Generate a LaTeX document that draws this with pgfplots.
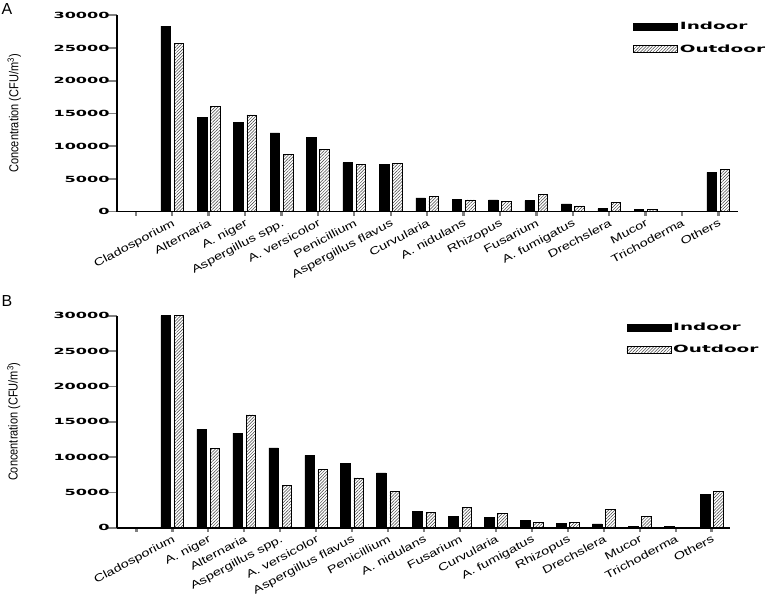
\documentclass[border=0pt]{standalone}
\usepackage{fontspec}
\setmainfont{Liberation Sans}
\newfontfamily\dv{DejaVu Sans}
\usepackage{graphicx}
\usepackage{pgfplots}
\usepackage{pgfplotstable}
\pgfplotsset{compat=1.18}
\usetikzlibrary{patterns.meta}

\newcommand\tl[1]{\scalebox{1.9}[1]{\dv\bfseries\fontsize{8.5}{9}\selectfont #1}}
\newcommand\lt[1]{\scalebox{1.85}[1]{\dv\bfseries\fontsize{10}{11}\selectfont #1}}
\newcommand\cat[1]{\scalebox{1.35}[1]{#1}}

\pgfplotstableread{
x in out
1 28350 25700
2 14400 16100
3 13600 14800
4 12050 8700
5 11300 9500
6 7500 7200
7 7200 7400
8 2100 2300
9 1900 1800
10 1800 1600
11 1700 2700
12 1200 900
13 450 1450
14 350 350
15 0 0
16 6000 6400
}\dataA

\pgfplotstableread{
x in out
1 30000 30000
2 13900 11200
3 13400 15950
4 11300 5950
5 10250 8250
6 9050 7050
7 7750 5150
8 2350 2150
9 1550 2850
10 1450 2050
11 1000 750
12 650 750
13 550 2550
14 200 1650
15 150 0
16 4750 5150
}\dataB

\pgfplotsset{
  panel/.style={
    scale only axis,
    axis x line=bottom, axis y line=left,
    axis line style={-, line width=1.6bp},
    ymin=0, ymax=30000,
    scaled y ticks=false,
    ytick={0,5000,...,30000},
    yticklabels={\tl{0},\tl{5000},\tl{10000},\tl{15000},\tl{20000},\tl{25000},\tl{30000}},
    xtick={0,...,16},
    tick align=outside,
    x tick style={line width=2.4bp, /pgfplots/major tick length=4bp},
    y tick style={line width=1.6bp, /pgfplots/major tick length=9bp},
    xticklabel style={font=\fontsize{10.8}{12}\selectfont, anchor=north east, inner sep=1bp, yshift=-1bp, rotate=28},
    ylabel={\scalebox{0.85}[1]{Concentration (CFU/m\textsuperscript{3})}},
    ylabel style={font=\fontsize{13}{14}\selectfont, anchor=center},
    legend image code/.code={\draw[##1] (0bp,-3.5bp) rectangle (44bp,3.5bp);},
    legend style={draw=none, fill=none, legend cell align=left, row sep=9bp, inner sep=0pt},
  },
  inb/.style={ybar, bar width=9.5bp, bar shift=-6.6bp, fill=black, draw=black, line width=0.5bp},
  outb/.style={ybar, bar width=9.5bp, bar shift=6.6bp, draw=black, line width=0.6bp,
    pattern={Lines[angle=45,distance=2.2bp,line width=0.5bp]}, pattern color=black!75},
}

\begin{document}
\begin{tikzpicture}
\path[use as bounding box] (0,0) rectangle (769bp,596bp);

\begin{axis}[panel,
  at={(117.3bp,384.3bp)}, anchor=south west,
  width=620.7bp, height=196.4bp,
  xmin=-0.51, xmax=16.54,
  xticklabels={,\cat{Cladosporium},\cat{Alternaria},\cat{A. niger},\cat{Aspergillus spp.},\cat{A. versicolor},\cat{Penicillium},\cat{Aspergillus flavus},\cat{Curvularia},\cat{A. nidulans},\cat{Rhizopus},\cat{Fusarium},\cat{A. fumigatus},\cat{Drechslera},\cat{Mucor},\cat{Trichoderma},\cat{Others}},
  ylabel style={at={(axis description cs:-0.166,0.5)}},
  legend style={at={(axis description cs:0.831,0.975)}, anchor=north west},
]
\addplot[inb] table[x=x,y=in] {\dataA};
\addplot[outb] table[x=x,y=out] {\dataA};
\legend{\lt{Indoor},\lt{Outdoor}}
\end{axis}

\begin{axis}[panel,
  at={(117.3bp,68.3bp)}, anchor=south west,
  width=612.7bp, height=212bp,
  xmin=-0.53, xmax=16.51,
  xticklabels={,\cat{Cladosporium},\cat{A. niger},\cat{Alternaria},\cat{Aspergillus spp.},\cat{A. versicolor},\cat{Aspergillus flavus},\cat{Penicillium},\cat{A. nidulans},\cat{Fusarium},\cat{Curvularia},\cat{A. fumigatus},\cat{Rhizopus},\cat{Drechslera},\cat{Mucor},\cat{Trichoderma},\cat{Others}},
  ylabel style={at={(axis description cs:-0.169,0.5)}},
  legend style={at={(axis description cs:0.831,0.975)}, anchor=north west},
]
\addplot[inb] table[x=x,y=in] {\dataB};
\addplot[outb] table[x=x,y=out] {\dataB};
\legend{\lt{Indoor},\lt{Outdoor}}
\end{axis}

\node[anchor=north west, inner sep=0pt, font=\fontsize{16}{18}\selectfont] at (1.5bp,592.7bp) {A};
\node[anchor=north west, inner sep=0pt, font=\fontsize{16}{18}\selectfont] at (1.5bp,301bp) {B};
\end{tikzpicture}
\end{document}
